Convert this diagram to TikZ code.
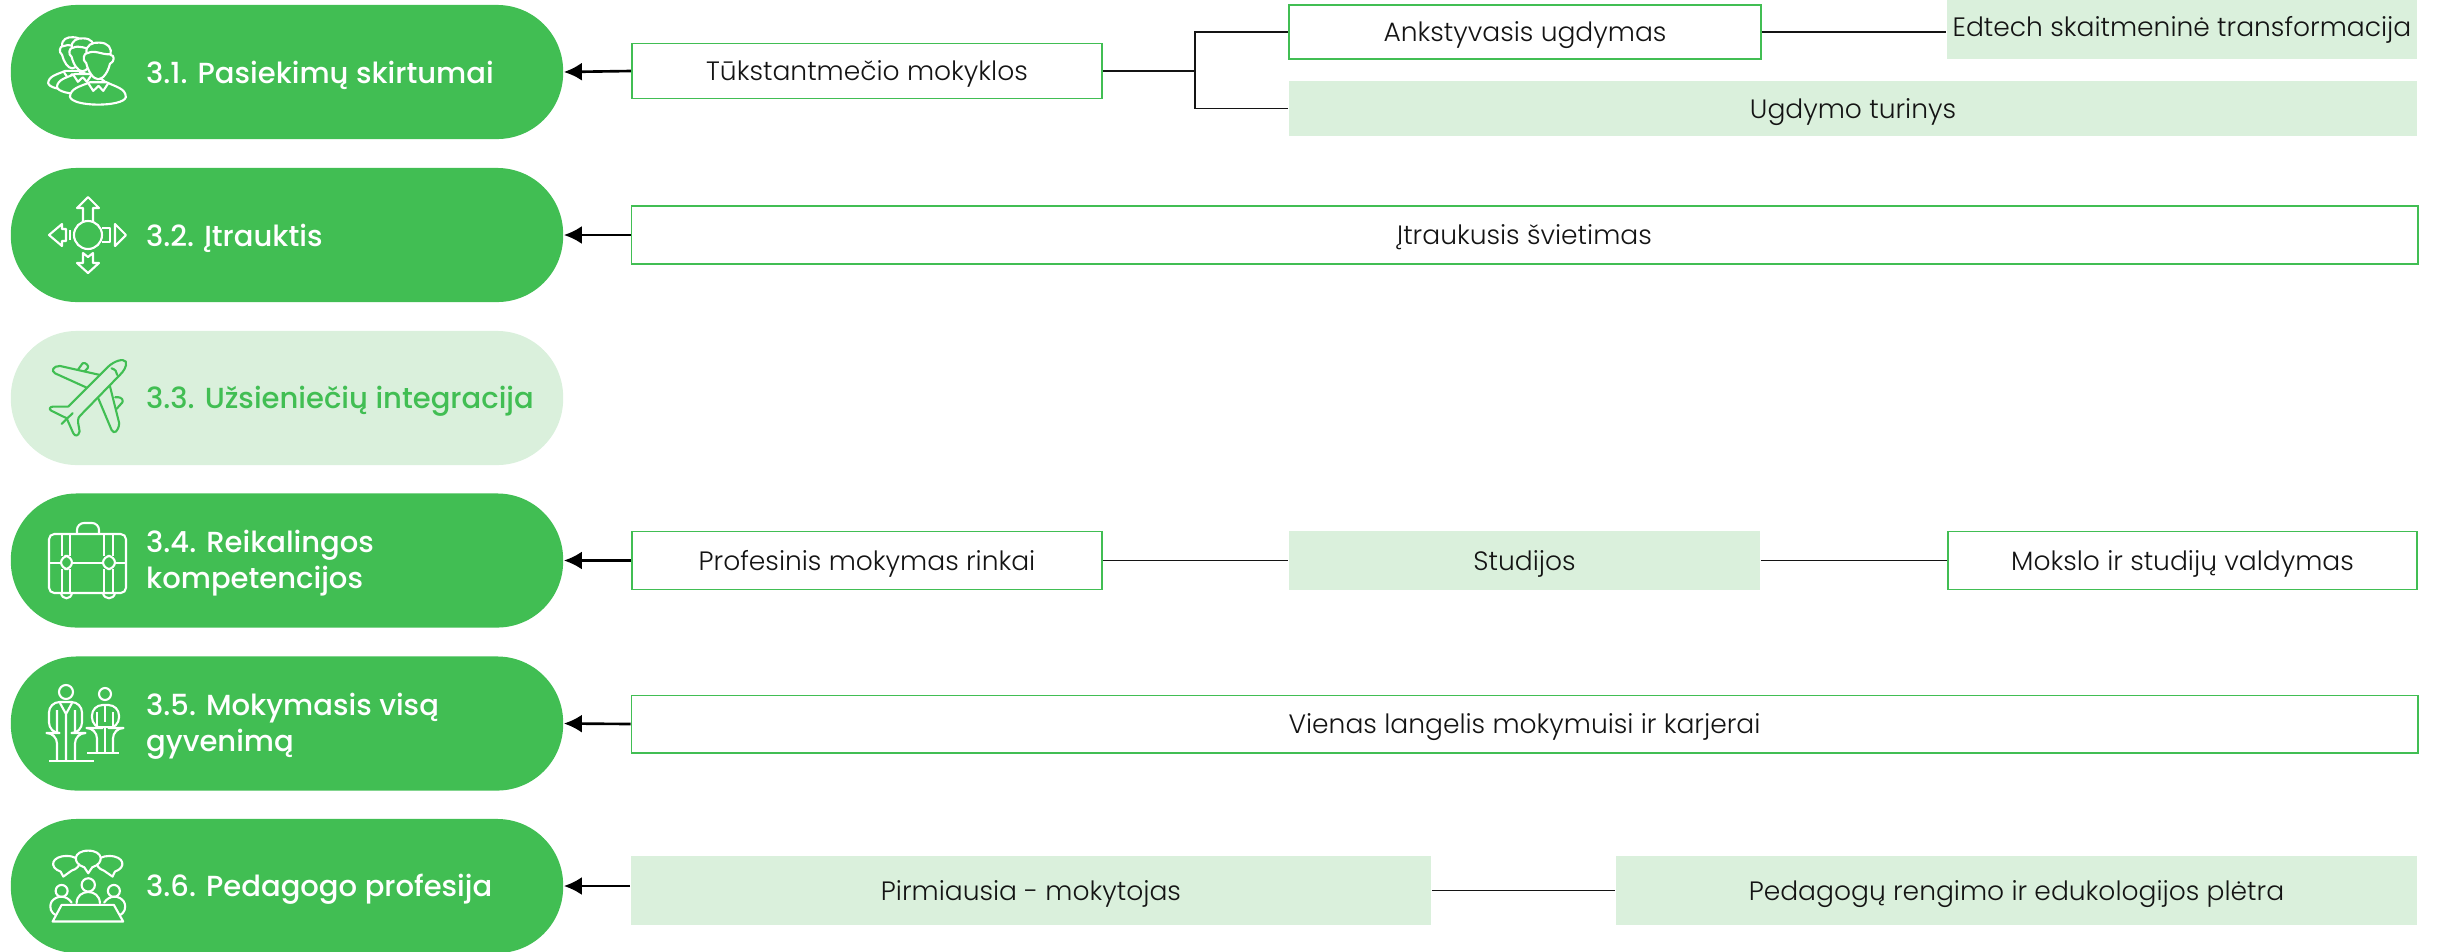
\documentclass[tikz,border=0pt]{standalone}
\usepackage{fontspec}
\setmainfont{Poppins}
\newfontfamily\pillfont{Poppins Medium}
\newfontfamily\boxfont{Poppins Light}
\usetikzlibrary{positioning,calc,arrows.meta}
\definecolor{pillgreen}{RGB}{65,190,83}
\definecolor{palegreen}{RGB}{218,240,220}
\definecolor{inkblack}{RGB}{20,20,20}
\tikzset{
  pill/.style={rectangle,rounded corners=0.66cm,minimum width=5.52cm,minimum height=1.34cm,inner sep=0pt},
  pillon/.style={pill,fill=pillgreen},
  pilloff/.style={pill,fill=palegreen},
  pilltext/.style={anchor=west,inner sep=0pt,align=left,yshift=-0.03cm,text=white,font=\pillfont\fontsize{8.26}{10.2}\selectfont},
  boxtext/.style={inner sep=0pt,text=inkblack,text height=6.7pt,text depth=1.2pt,font=\boxfont\fontsize{7.55}{9}\selectfont},
  boxline/.style={boxtext,rectangle,draw=pillgreen,fill=white,line width=0.55pt},
  boxpale/.style={boxtext,rectangle,fill=palegreen},
  link/.style={draw=inkblack,line width=0.5pt},
  toarrow/.style={draw=black,line width=0.75pt,-{Latex[length=0.18cm,width=0.18cm]}},
  icon/.style={x=0.0033333cm,y=-0.0033333cm,line width=0.6pt,line join=round,line cap=round},
  iconw/.style={draw=white},
  pics/person/.style={code={
    \draw[iconw,fill=pillgreen] (150,187) .. controls (120,200) and (92,205) .. (90,230) .. controls (95,262) and (250,262) .. (258,232) .. controls (258,205) and (225,200) .. (200,187) -- cycle;
    \draw[iconw,fill=pillgreen] (139,130) .. controls (125,120) and (133,100) .. (140,100) .. controls (135,75) and (160,66) .. (178,68) .. controls (205,68) and (217,85) .. (212,105) .. controls (225,105) and (225,125) .. (210,132) .. controls (205,155) and (190,178) .. (175,178) .. controls (160,178) and (145,155) .. (139,130) -- cycle;
    \draw[iconw] (142,100) .. controls (165,88) and (185,105) .. (212,103);
    \draw[iconw] (145,190) -- (160,213) -- (176,198) -- (190,213) -- (205,190);
  }}
}
\begin{document}
\begin{tikzpicture}[x=0.01cm,y=-0.01cm]
  \useasboundingbox (0,0) rectangle (2437,951);

  \node[pillon] (p1) at (287,72) {};
  \node[pillon] (p2) at (287,235) {};
  \node[pilloff] (p3) at (287,398) {};
  \node[pillon] (p4) at (287,560.5) {};
  \node[pillon] (p5) at (287,723.5) {};
  \node[pillon] (p6) at (287,886) {};

  \node[pilltext] (t1) at (145.5,72) {3.1. Pasiekimų skirtumai};
  \node[pilltext] (t2) at (145.5,235) {3.2. Įtrauktis};
  \node[pilltext,text=pillgreen] (t3) at (145.5,398) {3.3. Užsieniečių integracija};
  \node[pilltext] (t4) at (145.5,560.5) {3.4. Reikalingos\\kompetencijos};
  \node[pilltext] (t5) at (145.5,723.5) {3.5. Mokymasis visą\\gyvenimą};
  \node[pilltext] (t6) at (145.5,886) {3.6. Pedagogo profesija};

  \node[boxline,minimum width=4.7cm,minimum height=0.55cm] (tuks) at (867,71) {Tūkstantmečio mokyklos};
  \node[boxline,minimum width=4.71cm,minimum height=0.54cm] (anks) at (1525,32) {Ankstyvasis ugdymas};
  \node[boxpale,minimum width=4.7cm,minimum height=0.64cm] (edtech) at (2182,27) {Edtech skaitmeninė transformacija};
  \node[boxpale,minimum width=11.28cm,minimum height=0.55cm] (ugd) at (1853,108.5) {Ugdymo turinys};
  \node[boxline,minimum width=17.85cm,minimum height=0.58cm] (itr) at (1524.5,235) {Įtraukusis švietimas};
  \node[boxline,minimum width=4.7cm,minimum height=0.58cm] (prof) at (867,560.5) {Profesinis mokymas rinkai};
  \node[boxpale,minimum width=4.71cm,minimum height=0.59cm] (stud) at (1524.5,560.5) {Studijos};
  \node[boxline,minimum width=4.69cm,minimum height=0.58cm] (moks) at (2182.5,560.5) {Mokslo ir studijų valdymas};
  \node[boxline,minimum width=17.85cm,minimum height=0.57cm] (vien) at (1524.5,724) {Vienas langelis mokymuisi ir karjerai};
  \node[boxpale,minimum width=8cm,minimum height=0.69cm] (pirm) at (1031,890.5) {Pirmiausia - mokytojas};
  \node[boxpale,minimum width=8.01cm,minimum height=0.69cm] (ped) at (2016.5,890.5) {Pedagogų rengimo ir edukologijos plėtra};

  \coordinate (fork) at (1195,71);
  \draw[link] (tuks) -- (fork);
  \draw[link] (fork) |- (anks.west);
  \draw[link] (fork) |- (ugd.west);
  \draw[link] (anks.east) -- (anks.east -| edtech.west);
  \draw[link] (prof) -- (stud);
  \draw[link] (stud) -- (moks);
  \draw[link] (pirm) -- (ped);

  \draw[toarrow] (tuks.west) -- (p1.east);
  \draw[toarrow] (itr.west) -- (p2.east);
  \draw[toarrow] (prof.west) -- (p4.east);
  \draw[toarrow] (vien.west) -- (p5.east);
  \draw[toarrow] (p6.east -| pirm.west) -- (p6.east);

  % people
  \begin{scope}[shift={(40,20)},icon]
    \pic[scale=0.85] at (-52,-6) {person};
    \pic[scale=0.9] at (-30,-6) {person};
    \pic at (0,0) {person};
  \end{scope}

  % circle and arrows
  \begin{scope}[line width=0.6pt,line join=round]
    \draw[iconw] (88,235) circle (14);
    \draw[iconw] (83,221) -- (83,208) -- (77,208) -- (88,197) -- (99,208) -- (93,208) -- (93,221);
    \draw[iconw] (83,253) -- (83,263) -- (77,263) -- (88,273) -- (99,263) -- (93,263) -- (93,253) -- (88,257) -- cycle;
    \draw[iconw] (62,224) -- (49,235) -- (62,246) -- (62,241) -- (66,241) -- (66,229) -- (62,229) -- cycle;
    \draw[iconw] (70,230) -- (70,240);
    \draw[iconw] (102,228) -- (110,228) -- (110,242) -- (102,242);
    \draw[iconw] (115,224) -- (126,235) -- (115,246) -- cycle;
  \end{scope}

  % plane
  \begin{scope}[shift={(40,340)},icon]
    \draw[pillgreen] (85,200) -- (205,80) .. controls (225,62) and (250,55) .. (258,65) .. controls (262,80) and (250,95) .. (240,105) -- (120,228) .. controls (113,235) and (113,245) .. (117,262) -- (119,275) .. controls (115,290) and (105,290) .. (100,280) -- (80,235) -- (35,213) .. controls (25,208) and (30,200) .. (40,200) -- (85,200);
    \draw[pillgreen] (180,105) -- (60,78) .. controls (40,78) and (32,92) .. (45,100) -- (140,143);
    \draw[pillgreen] (115,88) -- (128,70) .. controls (135,65) and (150,78) .. (143,85) -- (135,93);
    \draw[pillgreen] (210,138) -- (238,250) .. controls (236,275) and (222,285) .. (215,270) -- (175,175);
    \draw[pillgreen] (226,172) -- (235,172) .. controls (245,172) and (252,182) .. (247,188) -- (230,207);
    \draw[pillgreen] (215,85) .. controls (225,88) and (232,95) .. (232,105);
    \draw[pillgreen] (65,252) -- (98,220);
  \end{scope}

  % briefcase
  \begin{scope}[line width=0.6pt,line join=round]
    \draw[iconw,rounded corners=1.5pt] (49,534) rectangle (126,593);
    \draw[iconw,rounded corners=2pt] (77,534) -- (77,523) -- (99,523) -- (99,534);
    \draw[iconw] (72,563) -- (103,563) (115,563) -- (126,563) (49,563) -- (61,563);
    \draw[iconw] (62,534) -- (62,556) (70,534) -- (70,556) (104,534) -- (104,556) (113,534) -- (113,556);
    \draw[iconw] (62,569) -- (62,593) (70,569) -- (70,593) (104,569) -- (104,593) (113,569) -- (113,593);
    \draw[iconw,rounded corners=2pt] (61,556) rectangle (72,569);
    \draw[iconw,rounded corners=2pt] (103,556) rectangle (115,569);
    \draw[iconw] (61,593) .. controls (62,600) and (71,600) .. (72,593);
    \draw[iconw] (103,593) .. controls (104,600) and (114,600) .. (115,593);
  \end{scope}

  % two men
  \begin{scope}[line width=0.6pt,line join=round]
    \draw[iconw] (66,692) circle (7);
    \draw[iconw,rounded corners=3pt] (57,760) -- (57,733) -- (49,733) -- (49,702) -- (82,702) -- (82,733) -- (75,733) -- (75,760);
    \draw[iconw] (57,710) -- (57,733) (75,710) -- (75,733) (66,733) -- (66,760) (60,703) -- (66,714) -- (72,703) (66,714) -- (66,733);
    \draw[iconw] (49,761) -- (94,761);
    \draw[iconw] (105,694) circle (6);
    \draw[iconw,rounded corners=3pt] (97,752) -- (97,728) -- (92,728) -- (92,705) -- (119,705) -- (119,728) -- (113,728) -- (113,752);
    \draw[iconw] (97,712) -- (97,728) (113,712) -- (113,728) (97,727) -- (113,727) (105,727) -- (105,752) (105,706) -- (105,722);
    \draw[iconw] (87,753) -- (119,753);
  \end{scope}

  % meeting
  \begin{scope}[shift={(40,830)},icon]
    \draw[iconw] (62,125) .. controls (25,112) and (35,78) .. (80,78) .. controls (125,78) and (130,112) .. (95,122) -- (70,140) -- cycle;
    \draw[iconw] (225,125) .. controls (262,112) and (252,78) .. (208,78) .. controls (165,78) and (160,112) .. (192,122) -- (218,140) -- cycle;
    \draw[iconw,fill=pillgreen] (133,112) .. controls (95,100) and (100,62) .. (145,62) .. controls (190,62) and (195,100) .. (157,112) -- (145,130) -- cycle;
    \draw[iconw] (65,183) circle (18);
    \draw[iconw] (145,165) circle (20);
    \draw[iconw] (222,183) circle (18);
    \draw[iconw] (110,220) .. controls (110,175) and (180,175) .. (180,220);
    \draw[iconw] (95,218) .. controls (80,195) and (50,195) .. (35,215) .. controls (25,235) and (35,250) .. (48,256);
    \draw[iconw] (193,218) .. controls (208,195) and (238,195) .. (252,215) .. controls (262,235) and (252,250) .. (240,256);
    \draw[iconw] (65,225) -- (222,225) -- (250,275) -- (38,275) -- cycle;
  \end{scope}
\end{tikzpicture}
\end{document}
